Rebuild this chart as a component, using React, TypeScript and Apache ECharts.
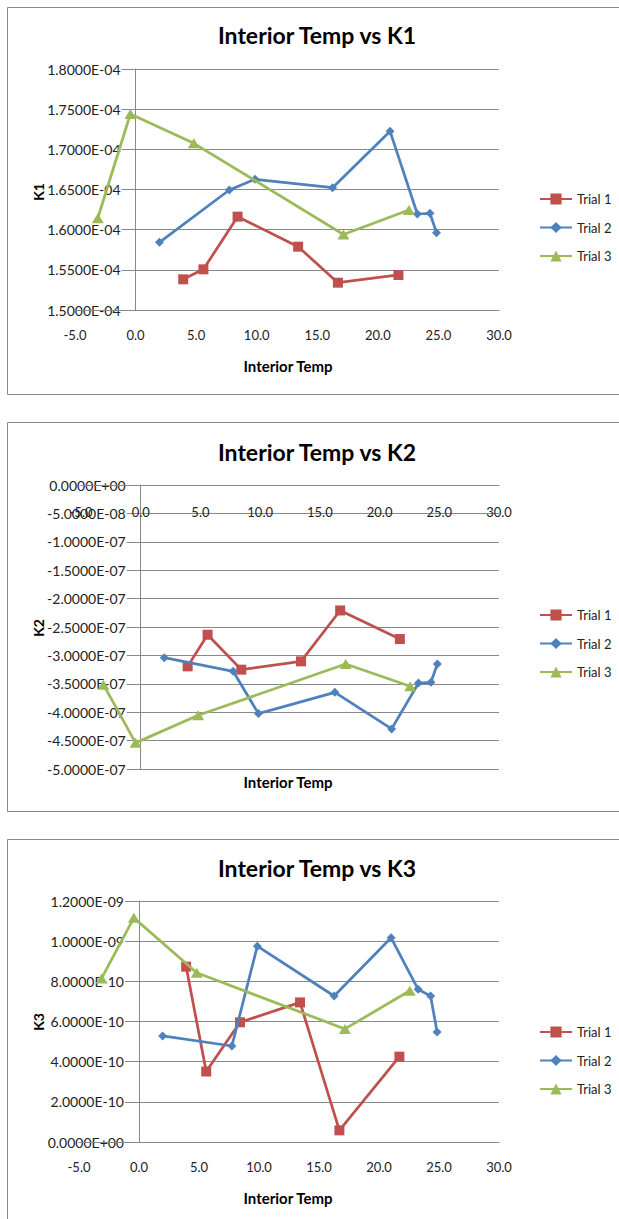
import React, { useEffect, useRef } from 'react';
import * as echarts from 'echarts';

// ---------- data ----------
const trialNames = ['Trial 1', 'Trial 2', 'Trial 3'];

const trial1Temp = [3.93, 5.6, 8.42, 13.42, 16.7, 21.7];
const trial2Temp = [1.97, 7.74, 9.86, 16.26, 21.01, 23.26, 24.3, 24.84];
const trial3Temp = [-3.12, -0.43, 4.81, 17.16, 22.56];

const trial1K1 = [1.5382e-4, 1.5506e-4, 1.6162e-4, 1.5788e-4, 1.534e-4, 1.5436e-4];
const trial2K1 = [1.5843e-4, 1.6494e-4, 1.6627e-4, 1.6523e-4, 1.7224e-4, 1.6195e-4, 1.6204e-4, 1.5963e-4];
const trial3K1 = [1.6142e-4, 1.744e-4, 1.7075e-4, 1.594e-4, 1.6245e-4];

const trial1K2 = [-3.193e-7, -2.636e-7, -3.251e-7, -3.105e-7, -2.209e-7, -2.712e-7];
const trial2K2 = [-3.04e-7, -3.28e-7, -4.025e-7, -3.65e-7, -4.294e-7, -3.486e-7, -3.474e-7, -3.152e-7];
const trial3K2 = [-3.515e-7, -4.54e-7, -4.054e-7, -3.152e-7, -3.544e-7];

const trial1K3 = [8.73e-10, 3.51e-10, 5.96e-10, 6.95e-10, 5.8e-11, 4.25e-10];
const trial2K3 = [5.28e-10, 4.78e-10, 9.75e-10, 7.27e-10, 1.0166e-9, 7.6e-10, 7.27e-10, 5.48e-10];
const trial3K3 = [8.146e-10, 1.116e-9, 8.43e-10, 5.63e-10, 7.53e-10];

const chartTitles = ['Interior Temp vs K1', 'Interior Temp vs K2', 'Interior Temp vs K3'];
const yNames = ['K1', 'K2', 'K3'];
const xName = 'Interior Temp';

// x axis ticks: min, max, interval
const xTicks = [-5, 30, 5];
// y axis ticks: min, max, interval
const k1Ticks = [1.5e-4, 1.8e-4, 0.5e-5];
const k2Ticks = [-5e-7, 0, 5e-8];
const k3Ticks = [0, 1.2e-9, 2e-10];

// ---------- style / layout ----------
const COLORS = ['#C0504D', '#4F81BD', '#9BBB59'];
const SYMBOLS = ['rect', 'diamond', 'triangle'];
const SYMBOL_SIZES: any[] = [10, 9, [12, 10]];
const GRID_COLOR = '#898989';
const FONT = 'Lato, "DejaVu Sans", sans-serif';

const LAYOUT = [
  { panelTop: 7, panelH: 387, gridLeft: 75, gridTop: 69, gridW: 424, gridH: 241, titleY: 35, xNameY: 366, yNameY: 192, legendTop: 187, xTop: false },
  { panelTop: 422, panelH: 389, gridLeft: 81, gridTop: 485, gridW: 418, gridH: 284, titleY: 452, xNameY: 782, yNameY: 628, legendTop: 603, xTop: true },
  { panelTop: 839, panelH: 500, gridLeft: 79, gridTop: 901, gridW: 420, gridH: 241, titleY: 868, xNameY: 1198, yNameY: 1022, legendTop: 1020, xTop: false },
];

function sci(v: number): string {
  if (Math.abs(v) < 1e-20) return '0.0000E+00';
  let e = Math.floor(Math.log10(Math.abs(v)));
  let ms = (v / Math.pow(10, e)).toFixed(4);
  if (Math.abs(parseFloat(ms)) >= 10) {
    e += 1;
    ms = (v / Math.pow(10, e)).toFixed(4);
  }
  const ea = Math.abs(e);
  return ms + 'E' + (e < 0 ? '-' : '+') + (ea < 10 ? '0' + ea : String(ea));
}

const zip = (xs: number[], ys: number[]) => xs.map((x, i) => [x, ys[i]]);

export default function App() {
  const ref = useRef<HTMLDivElement>(null);

  useEffect(() => {
    document.body.style.margin = '0';
    if (!ref.current) return;
    const chart = echarts.init(ref.current, undefined, { renderer: 'svg' });

    const temps = [trial1Temp, trial2Temp, trial3Temp];
    const values = [
      [trial1K1, trial2K1, trial3K1],
      [trial1K2, trial2K2, trial3K2],
      [trial1K3, trial2K3, trial3K3],
    ];
    const yTicks = [k1Ticks, k2Ticks, k3Ticks];

    const grid: any[] = [];
    const xAxis: any[] = [];
    const yAxis: any[] = [];
    const series: any[] = [];
    const legend: any[] = [];
    const graphic: any[] = [];

    LAYOUT.forEach((L, c) => {
      // vertical axis crosses the horizontal axis at x = 0
      const zeroOffset = ((0 - xTicks[0]) / (xTicks[1] - xTicks[0])) * L.gridW;
      grid.push({ left: L.gridLeft, top: L.gridTop, width: L.gridW, height: L.gridH, containLabel: false, outerBoundsMode: 'none' });
      xAxis.push({
        type: 'value', gridIndex: c, min: xTicks[0], max: xTicks[1], interval: xTicks[2], z: 1.5,
        position: L.xTop ? 'top' : 'bottom',
        axisLine: { show: true, onZero: false, lineStyle: { color: GRID_COLOR, width: 1 } },
        axisTick: { show: false },
        splitLine: { show: false },
        axisLabel: {
          inside: L.xTop, margin: L.xTop ? 20 : 18, color: '#222', fontSize: 13, fontFamily: FONT,
          formatter: (v: number) => v.toFixed(1),
        },
      });
      const [ymin, ymax, yint] = yTicks[c];
      // axis 1: gridlines and axis line
      yAxis.push({
        type: 'value', gridIndex: c, min: ymin, max: ymax, interval: yint, position: 'left', offset: -zeroOffset, z: 0,
        axisLine: { show: true, onZero: false, lineStyle: { color: GRID_COLOR, width: 1 } },
        axisTick: { show: false },
        axisLabel: { show: false },
        splitLine: { show: true, lineStyle: { color: GRID_COLOR, width: 1 } },
      });
      // axis 2: labels on white background above gridlines
      yAxis.push({
        type: 'value', gridIndex: c, min: ymin, max: ymax, interval: yint, position: 'left', offset: -zeroOffset, z: 1,
        axisLine: { show: false, onZero: false },
        axisTick: { show: false },
        splitLine: { show: false },
        axisLabel: {
          margin: 14, color: '#222', fontSize: 14, fontFamily: FONT,
          backgroundColor: '#fff', padding: [0, 1, 0, 1],
          formatter: (v: number) => sci(v),
        },
      });
      trialNames.forEach((name, s) => {
        series.push({
          type: 'line', name, xAxisIndex: c, yAxisIndex: c * 2,
          data: zip(temps[s], values[c][s]),
          symbol: SYMBOLS[s], symbolSize: SYMBOL_SIZES[s], showSymbol: true,
          color: COLORS[s],
          itemStyle: { color: COLORS[s] },
          lineStyle: { color: COLORS[s], width: 2.75 },
          z: 2 + s * 0.1,
        });
      });
      legend.push({
        data: trialNames, orient: 'vertical', left: 534, top: L.legendTop,
        itemWidth: 32, itemHeight: 14, itemGap: 14.5,
        textStyle: { fontSize: 13, fontFamily: FONT, color: '#222', lineHeight: 14 },
        selectedMode: false,
      });
      graphic.push({
        type: 'rect', silent: true, z: -10,
        shape: { x: 7.5, y: L.panelTop + 0.5, width: 700, height: L.panelH },
        style: { fill: 'none', stroke: '#8a8a8a', lineWidth: 1 },
      });
      graphic.push({
        type: 'text', x: 317, y: L.titleY, z: 10,
        style: { text: chartTitles[c], fill: '#000', font: `bold 23px ${FONT}`, textAlign: 'center', textVerticalAlign: 'middle', verticalAlign: 'middle' },
      });
      graphic.push({
        type: 'text', x: 288, y: L.xNameY, z: 10,
        style: { text: xName, fill: '#000', font: `bold 15px ${FONT}`, textAlign: 'center', textVerticalAlign: 'middle', verticalAlign: 'middle' },
      });
      graphic.push({
        type: 'text', x: 38, y: L.yNameY, rotation: Math.PI / 2, z: 10,
        style: { text: yNames[c], fill: '#000', font: `bold 14px ${FONT}`, textAlign: 'center', textVerticalAlign: 'middle', verticalAlign: 'middle' },
      });
    });

    chart.setOption({
      animation: false,
      backgroundColor: '#fff',
      textStyle: { fontFamily: FONT },
      grid, xAxis, yAxis, series, legend, graphic,
    });

    return () => chart.dispose();
  }, []);

  return <div ref={ref} style={{ width: 619, height: 1219 }} />;
}
